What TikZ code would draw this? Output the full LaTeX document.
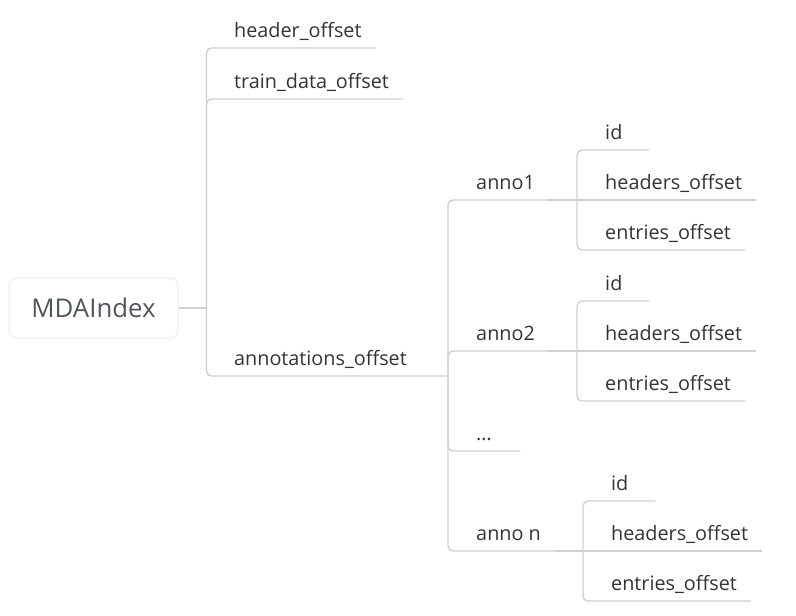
\documentclass[tikz,border=0pt]{standalone}
\usepackage{fontspec}
\setmainfont{Open Sans}
\usetikzlibrary{positioning,calc}

\definecolor{linegray}{HTML}{D0D0D0}
\definecolor{textgray}{HTML}{333333}
\definecolor{rootgray}{HTML}{4F565E}

\begin{document}
\begin{tikzpicture}[x=1pt,y=-1pt,
    link/.style={draw=linegray,line width=1.4pt,rounded corners=5pt},
    topic/.style={anchor=south west,inner xsep=14pt,inner ysep=5pt,text height=15pt,text depth=5pt,
      font=\fontsize{19.8}{23}\selectfont,text=textgray},
    short/.style={topic,text width=30pt,align=left},
    root/.style={draw=black!8,line width=1pt,rounded corners=8pt,minimum width=169pt,minimum height=60pt,
      font=\fontsize{25.8}{30}\selectfont,text=rootgray}]
  \useasboundingbox (0,0) rectangle (796,616);

  % root and first level
  \node[root] (mda) at (93.5,308) {MDAIndex};
  \coordinate (j1) at ([xshift=28pt]mda.east);
  \node[topic] (hdr) at (220,48) {header\_offset};
  \node[topic] (trd) at (220,99) {train\_data\_offset};
  \node[topic] (ann) at (220,376) {annotations\_offset};
  \draw[link] (mda.east) -- (j1);
  \draw[link] (j1) |- (hdr.south east);
  \draw[link] (j1) |- (trd.south east);

  % annotations
  \coordinate (j2) at ([xshift=27pt]ann.south east);
  \draw[link] (j1) |- (ann.south east) -- (j2);
  \node[topic] (a1) at ($(j2)+(14,-176)$) {anno1};
  \node[topic] (a2) at ($(j2)+(14,-25)$) {anno2};
  \node[short] (dots) at ($(j2)+(14,75)$) {\ldots};
  \node[topic] (an) at ($(j2)+(14,175)$) {anno n};
  \draw[link] (j2) |- (a1.south east);
  \draw[link] (j2) |- (a2.south east);
  \draw[link] (j2) |- (dots.south east);
  \draw[link] (j2) |- (an.south east);

  % fields of each annotation
  \foreach \a in {a1,a2,an} {
    \coordinate (\a j) at ([xshift=28pt]\a.south east);
    \node[short] (\a id) at ($(\a j)+(14,-50)$) {id};
    \node[topic] (\a hd) at ($(\a j)+(14,0)$) {headers\_offset};
    \node[topic] (\a en) at ($(\a j)+(14,50)$) {entries\_offset};
    \draw[link] (\a.south east) -- (\a j);
    \draw[link] (\a j) |- (\a id.south east);
    \draw[link] (\a j) -- (\a hd.south east);
    \draw[link] (\a j) |- (\a en.south east);
  }
\end{tikzpicture}
\end{document}
